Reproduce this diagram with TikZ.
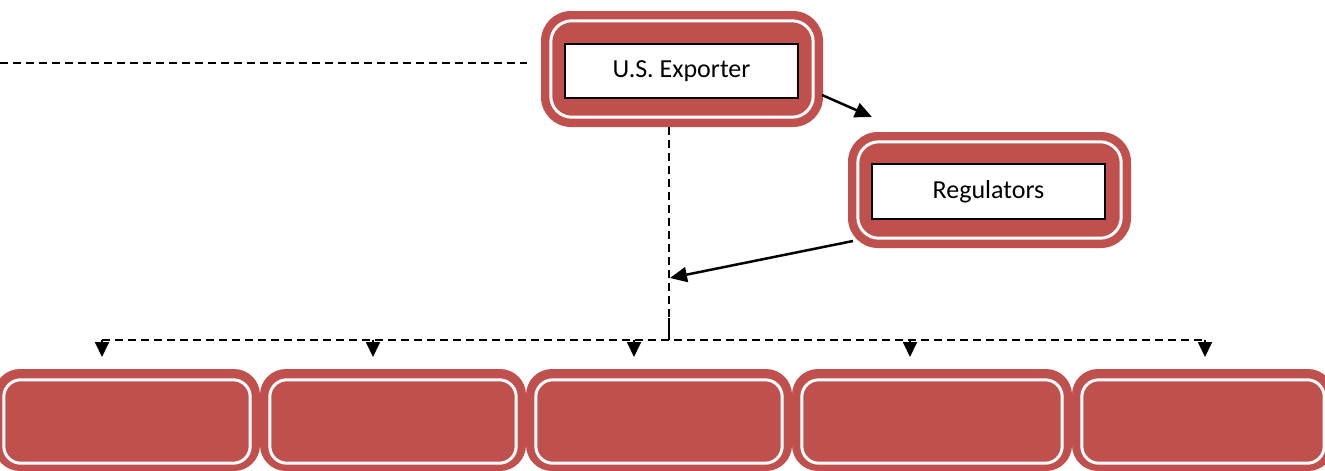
\documentclass[tikz,border=0pt]{standalone}
\usepackage{fontspec}
\setmainfont{Carlito}
\usetikzlibrary{arrows.meta,calc}
\definecolor{boxred}{HTML}{C0504D}
\begin{document}
\begin{tikzpicture}[x=1pt,y=-1pt,
  outerbox/.style={fill=boxred, draw=none, rounded corners=30pt, inner sep=0pt},
  lowbox/.style={fill=boxred, draw=none, rounded corners=26pt, inner sep=0pt, minimum height=102pt},
  whiteline/.style={draw=white, line width=3pt, rounded corners=21pt},
  textbox/.style={fill=white, draw=black, line width=2pt, inner sep=0pt, font=\fontsize{26}{30}\selectfont},
  dashline/.style={draw=black, line width=1.8pt, dash pattern=on 7.5pt off 5.5pt},
  solidline/.style={draw=black, line width=1.8pt},
  arrowline/.style={draw=black, line width=2.5pt, -{Triangle[length=17pt,width=15pt]}},
  downarrow/.style={draw=black, line width=1.8pt, -{Triangle[length=15pt,width=14pt]}}]
\useasboundingbox (0,0) rectangle (1325,471);
\clip (0,0) rectangle (1325,471);

% top boxes
\node[outerbox, minimum width=282pt, minimum height=116pt] (ue) at (682,69) {};
\draw[whiteline] ($(ue.north west)+(10,10)$) rectangle ($(ue.south east)+(-10,-10)$);
\node[textbox, minimum width=233pt, minimum height=54pt] (uet) at (681.5,71) {\raisebox{-2pt}{U.S. Exporter}};

\node[outerbox, minimum width=283pt, minimum height=116pt] (reg) at (989.5,190) {};
\draw[whiteline] ($(reg.north west)+(10,10)$) rectangle ($(reg.south east)+(-10,-10)$);
\node[textbox, minimum width=233pt, minimum height=55pt] (regt) at (988.5,191.5) {\raisebox{-2pt}{Regulators}};

% bottom boxes
\node[lowbox, minimum width=266pt] (b1) at (127,420) {};
\node[lowbox, minimum width=266pt] (b2) at (393,420) {};
\node[lowbox, minimum width=266pt] (b3) at (659,420) {};
\node[lowbox, minimum width=280pt] (b4) at (932,420) {};
\node[lowbox, minimum width=262pt] (b5) at (1203,420) {};
\foreach \b in {b1,b2,b3,b4,b5}{
  \draw[whiteline, rounded corners=17pt] ($(\b.north west)+(10,11)$) rectangle ($(\b.south east)+(-10,-8)$);
}

% dashed connectors
\coordinate (tl) at (0,63);
\coordinate (tr) at (527,63);
\draw[dashline] (tl) -- (tr);

\coordinate (vtop) at (669,127);
\coordinate (vmid) at (669,318);
\coordinate (junc) at (669,340);
\draw[dashline] (vtop) -- (vmid);
\draw[solidline] (vmid) -- (junc);

\coordinate (hl) at (102,340);
\coordinate (hr) at (1205,340);
\draw[dashline] (hl) -- (hr);

\foreach \x/\b in {102/b1,373/b2,634/b3,910/b4,1205/b5}{
  \coordinate (s\b) at (\x,340);
  \coordinate (t\b) at (\x,357);
  \draw[downarrow] (s\b) -- (t\b);
}

% solid arrows
\coordinate (ueout) at (822,95);
\coordinate (regin) at (872,117);
\draw[arrowline] (ueout) -- (regin);

\coordinate (regout) at (853,241);
\coordinate (vin) at (670,278);
\draw[arrowline] (regout) -- (vin);
\end{tikzpicture}
\end{document}
